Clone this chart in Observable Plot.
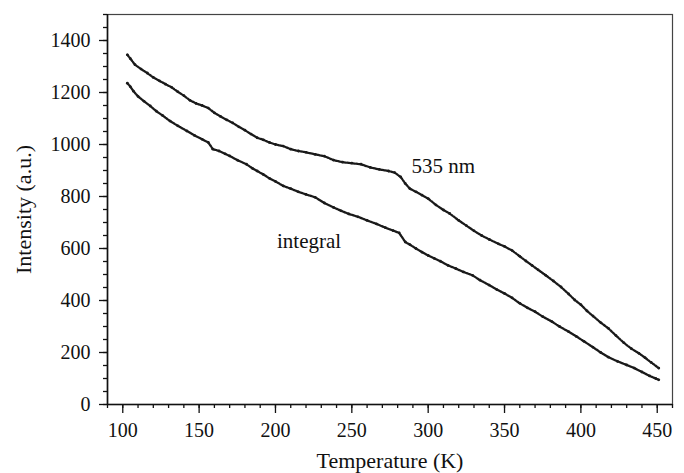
<!DOCTYPE html>
<html>
<head>
<meta charset="utf-8">
<script src="https://cdn.jsdelivr.net/npm/d3@7"></script>
<script src="https://cdn.jsdelivr.net/npm/@observablehq/plot@0.6"></script>
<style>
  html, body { margin: 0; padding: 0; background: #fff; }
  #chart svg { display: block; }
</style>
</head>
<body>
<div id="chart"></div>
<script>
// Temperature (K) and intensity (a.u.) for the 535 nm emission
const temp535 = [103,105,108,112,116,120,124,128,132,136,140,144,148,152,156,160,164,168,172,176,180,184,188,192,196,200,205,210,215,220,226,232,238,244,250,256,262,268,274,278,282,285,288,292,296,300,305,310,314,320,325,330,335,340,346,350,355,360,364,368,372,377,382,387,392,396,400,404,408,413,418,423,428,433,438,442,446,451];
const int535 = [1345,1330,1307,1290,1275,1258,1245,1232,1220,1203,1188,1170,1158,1150,1140,1122,1108,1095,1083,1068,1055,1040,1026,1018,1008,1000,994,982,975,970,962,955,940,932,928,924,912,904,898,892,875,850,830,818,805,792,768,748,735,708,688,668,650,635,618,608,592,570,552,535,518,497,475,452,425,402,384,360,340,315,293,265,238,215,197,180,162,140];

// Temperature (K) and integral intensity (a.u.)
const tempInt = [103,105,107,110,114,118,122,126,131,136,142,147,152,156,159,163,167,170,175,181,185,188,192,196,200,205,210,215,220,226,232,238,243,248,254,260,266,272,277,281,285,288,292,296,300,304,308,313,318,323,329,334,340,345,350,355,360,365,370,375,381,386,392,397,402,408,413,418,424,430,435,440,445,449,451];
const intInt = [1236,1222,1205,1185,1166,1148,1128,1112,1090,1072,1052,1035,1020,1008,982,975,964,956,940,924,908,898,885,870,858,841,830,818,808,797,775,758,745,733,722,708,695,680,669,660,625,615,600,586,573,562,551,535,523,510,497,478,459,442,427,410,389,372,357,338,319,300,280,262,243,220,200,182,166,152,140,125,110,100,95];

const xMajor = [100,150,200,250,300,350,400,450];
const xMinor = d3.range(90, 461, 10);
const yMajor = [0,200,400,600,800,1000,1200,1400];
const yMinor = d3.range(0, 1501, 50);

const labels = [
  {t: 289, v: 918, text: "535 nm"},
  {t: 201, v: 627, text: "integral"}
];

const s535 = temp535.map((t, i) => ({t, v: int535[i]}));
const sInt = tempInt.map((t, i) => ({t, v: intInt[i]}));

const font = "Liberation Serif";

const chart = Plot.plot({
  width: 684,
  height: 473,
  marginLeft: 107,
  marginRight: 12,
  marginTop: 14,
  marginBottom: 69,
  style: {fontFamily: font, fontSize: "20px", color: "#111", background: "#fff"},
  x: {domain: [90, 460]},
  y: {domain: [0, 1500]},
  marks: [
    Plot.frame({stroke: "#444", strokeWidth: 1.2}),
    Plot.axisX({ticks: xMinor, tickSize: 4, text: null, label: null, strokeWidth: 1.3, stroke: "#111"}),
    Plot.axisX({ticks: xMajor, tickSize: 9, tickPadding: 9, label: null, tickFormat: d => String(d), strokeWidth: 1.3, stroke: "#111", fill: "#111", fontSize: 20}),
    Plot.axisX({ticks: [], label: "Temperature (K)", labelAnchor: "center", labelArrow: "none", labelOffset: 63, fontSize: 22, fill: "#111"}),
    Plot.axisY({ticks: yMinor, tickSize: 4, text: null, label: null, strokeWidth: 1.3, stroke: "#111"}),
    Plot.axisY({ticks: yMajor, tickSize: 8, tickPadding: 9, label: null, tickFormat: d => String(d), strokeWidth: 1.3, stroke: "#111", fill: "#111", fontSize: 20}),
    Plot.axisY({ticks: [], label: "Intensity (a.u.)", labelAnchor: "center", labelArrow: "none", labelOffset: 92, fontSize: 22, fill: "#111"}),
    Plot.ruleY([0], {stroke: "#111", strokeWidth: 1.6}),
    Plot.ruleX([90], {stroke: "#111", strokeWidth: 1.6}),
    Plot.line(s535, {x: "t", y: "v", stroke: "#1a1a1a", strokeWidth: 2.3, strokeDasharray: "1.6,1.4"}),
    Plot.dot(s535, {x: "t", y: "v", r: 1.4, fill: "#1a1a1a"}),
    Plot.line(sInt, {x: "t", y: "v", stroke: "#1a1a1a", strokeWidth: 2.3, strokeDasharray: "1.8,1.1"}),
    Plot.dot(sInt, {x: "t", y: "v", r: 1.4, fill: "#1a1a1a"}),
    Plot.text(labels, {x: "t", y: "v", text: "text", textAnchor: "start", fontSize: 21, fill: "#111"})
  ]
});
d3.select(chart).selectAll("text").style("font-variant", "normal");
document.getElementById("chart").appendChild(chart);
</script>
</body>
</html>
